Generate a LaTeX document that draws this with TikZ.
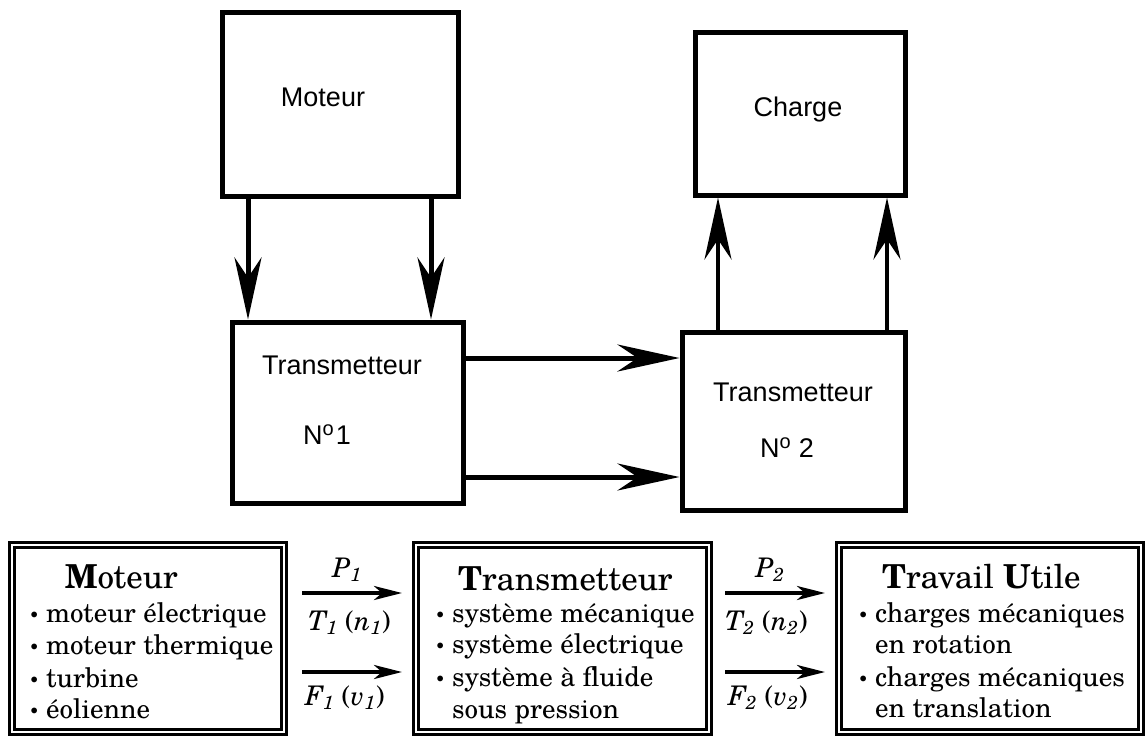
\documentclass[tikz,border=0pt]{standalone}
\usepackage{fontspec}
\setmainfont{TeX Gyre Schola}
\newfontfamily\blocfont{Liberation Sans}
\usetikzlibrary{arrows.meta}

% small bullet in front of each item
\newcommand\puce{\makebox[17pt][l]{\raisebox{1pt}{\fontsize{17}{17}\selectfont\textbullet}}}

\begin{document}
\begin{tikzpicture}[x=1pt, y=-1pt,
    bloc/.style={draw, line width=5pt, inner sep=0pt},
    cadre/.style={draw, double, line width=2.8pt, double distance=2.4pt, inner sep=0pt},
    etiq/.style={font=\blocfont\fontsize{27}{30}\selectfont},
    titre/.style={font=\fontsize{33}{36}\selectfont, anchor=base west, inner sep=0pt},
    ligne/.style={font=\fontsize{27}{32}\selectfont, anchor=base west, inner sep=0pt},
    grosse/.style={-{Stealth[length=62pt, width=27pt, inset=20pt]}, line width=5pt},
    fine/.style={-{Stealth[length=28pt, width=14pt, inset=8pt]}, line width=3.8pt}]
  \useasboundingbox (0,0) rectangle (1147,737);

  % upper chain
  \node[bloc, minimum width=236, minimum height=184] (moteur) at (340,104) {};
  \node[bloc, minimum width=231, minimum height=181] (trans1) at (347.5,412.5) {};
  \node[bloc, minimum width=210, minimum height=163] (charge) at (800,113.5) {};
  \node[bloc, minimum width=223, minimum height=178] (trans2) at (793.5,421) {};

  \node[etiq] (tmot) at (323,97) {Moteur};
  \node[etiq] (tcha) at (798,110) {Charge};
  \node[etiq] (ttr1) at (342,365) {Transmetteur};
  \node[etiq] (num1) at (327,435) {N\raisebox{9pt}{\fontsize{20}{20}\selectfont o}\kern2pt 1};
  \node[etiq] (ttr2) at (793,392) {Transmetteur};
  \node[etiq] (num2) at (787,448) {N\raisebox{9pt}{\fontsize{20}{20}\selectfont o}\kern8pt 2};

  \coordinate (d1) at (248,0);
  \coordinate (d2) at (431,0);
  \coordinate (h1) at (0,358);
  \coordinate (h2) at (0,477);
  \coordinate (u1) at (718,0);
  \coordinate (u2) at (887,0);
  \draw[grosse] (d1 |- moteur.south) -- (d1 |- trans1.north);
  \draw[grosse] (d2 |- moteur.south) -- (d2 |- trans1.north);
  \draw[grosse] (trans1.east |- h1) -- (trans2.west |- h1);
  \draw[grosse] (trans1.east |- h2) -- (trans2.west |- h2);
  \draw[grosse, line width=4pt] (u1 |- trans2.north) -- (u1 |- charge.south);
  \draw[grosse, line width=4pt] (u2 |- trans2.north) -- (u2 |- charge.south);

  % lower chain
  \node[cadre, minimum width=272, minimum height=187] (bmot) at (148,638.5) {};
  \node[cadre, minimum width=293, minimum height=187] (btra) at (562.5,638.5) {};
  \node[cadre, minimum width=302, minimum height=187] (btrav) at (990,638.5) {};

  \node[titre] (hmot) at (65,588) {\textbf{M}oteur};
  \node[ligne] (m1) at (29,622) {\puce moteur électrique};
  \node[ligne] (m2) at (29,654) {\puce moteur thermique};
  \node[ligne] (m3) at (29,687) {\puce turbine};
  \node[ligne] (m4) at (29,718) {\puce éolienne};

  \node[titre] (htra) at (458,590) {\textbf{T}ransmetteur};
  \node[ligne] (t1) at (435,622) {\puce système mécanique};
  \node[ligne] (t2) at (435,653) {\puce système électrique};
  \node[ligne] (t3) at (435,686) {\puce système à fluide};
  \node[ligne] (t4) at (452,718) {sous pression};

  \node[titre] (htrav) at (882,588) {\textbf{T}ravail \textbf{U}tile};
  \node[ligne] (c1) at (858,622) {\puce charges mécaniques};
  \node[ligne] (c2) at (875,653) {en rotation};
  \node[ligne] (c3) at (858,686) {\puce charges mécaniques};
  \node[ligne] (c4) at (875,717) {en translation};

  \coordinate (a1) at (302,593);
  \coordinate (a2) at (402,593);
  \coordinate (b1) at (302,672);
  \coordinate (b2) at (402,672);
  \coordinate (a3) at (725,593);
  \coordinate (a4) at (825,593);
  \coordinate (b3) at (725,672);
  \coordinate (b4) at (825,672);
  \draw[fine] (a1) -- (a2);
  \draw[fine] (b1) -- (b2);
  \draw[fine] (a3) -- (a4);
  \draw[fine] (b3) -- (b4);

  \node[ligne, anchor=base] (p1) at (347,577) {\textit{P\textsubscript{1}}};
  \node[ligne] (q1) at (308,630) {\textit{T\textsubscript{1}} (\textit{n\textsubscript{1}})};
  \node[ligne] (f1) at (305,705) {\textit{F\textsubscript{1}} (\textit{v\textsubscript{1}})};
  \node[ligne, anchor=base] (p2) at (770,577) {\textit{P\textsubscript{2}}};
  \node[ligne] (q2) at (725,630) {\textit{T\textsubscript{2}} (\textit{n\textsubscript{2}})};
  \node[ligne] (f2) at (728,705) {\textit{F\textsubscript{2}} (\textit{v\textsubscript{2}})};
\end{tikzpicture}
\end{document}
